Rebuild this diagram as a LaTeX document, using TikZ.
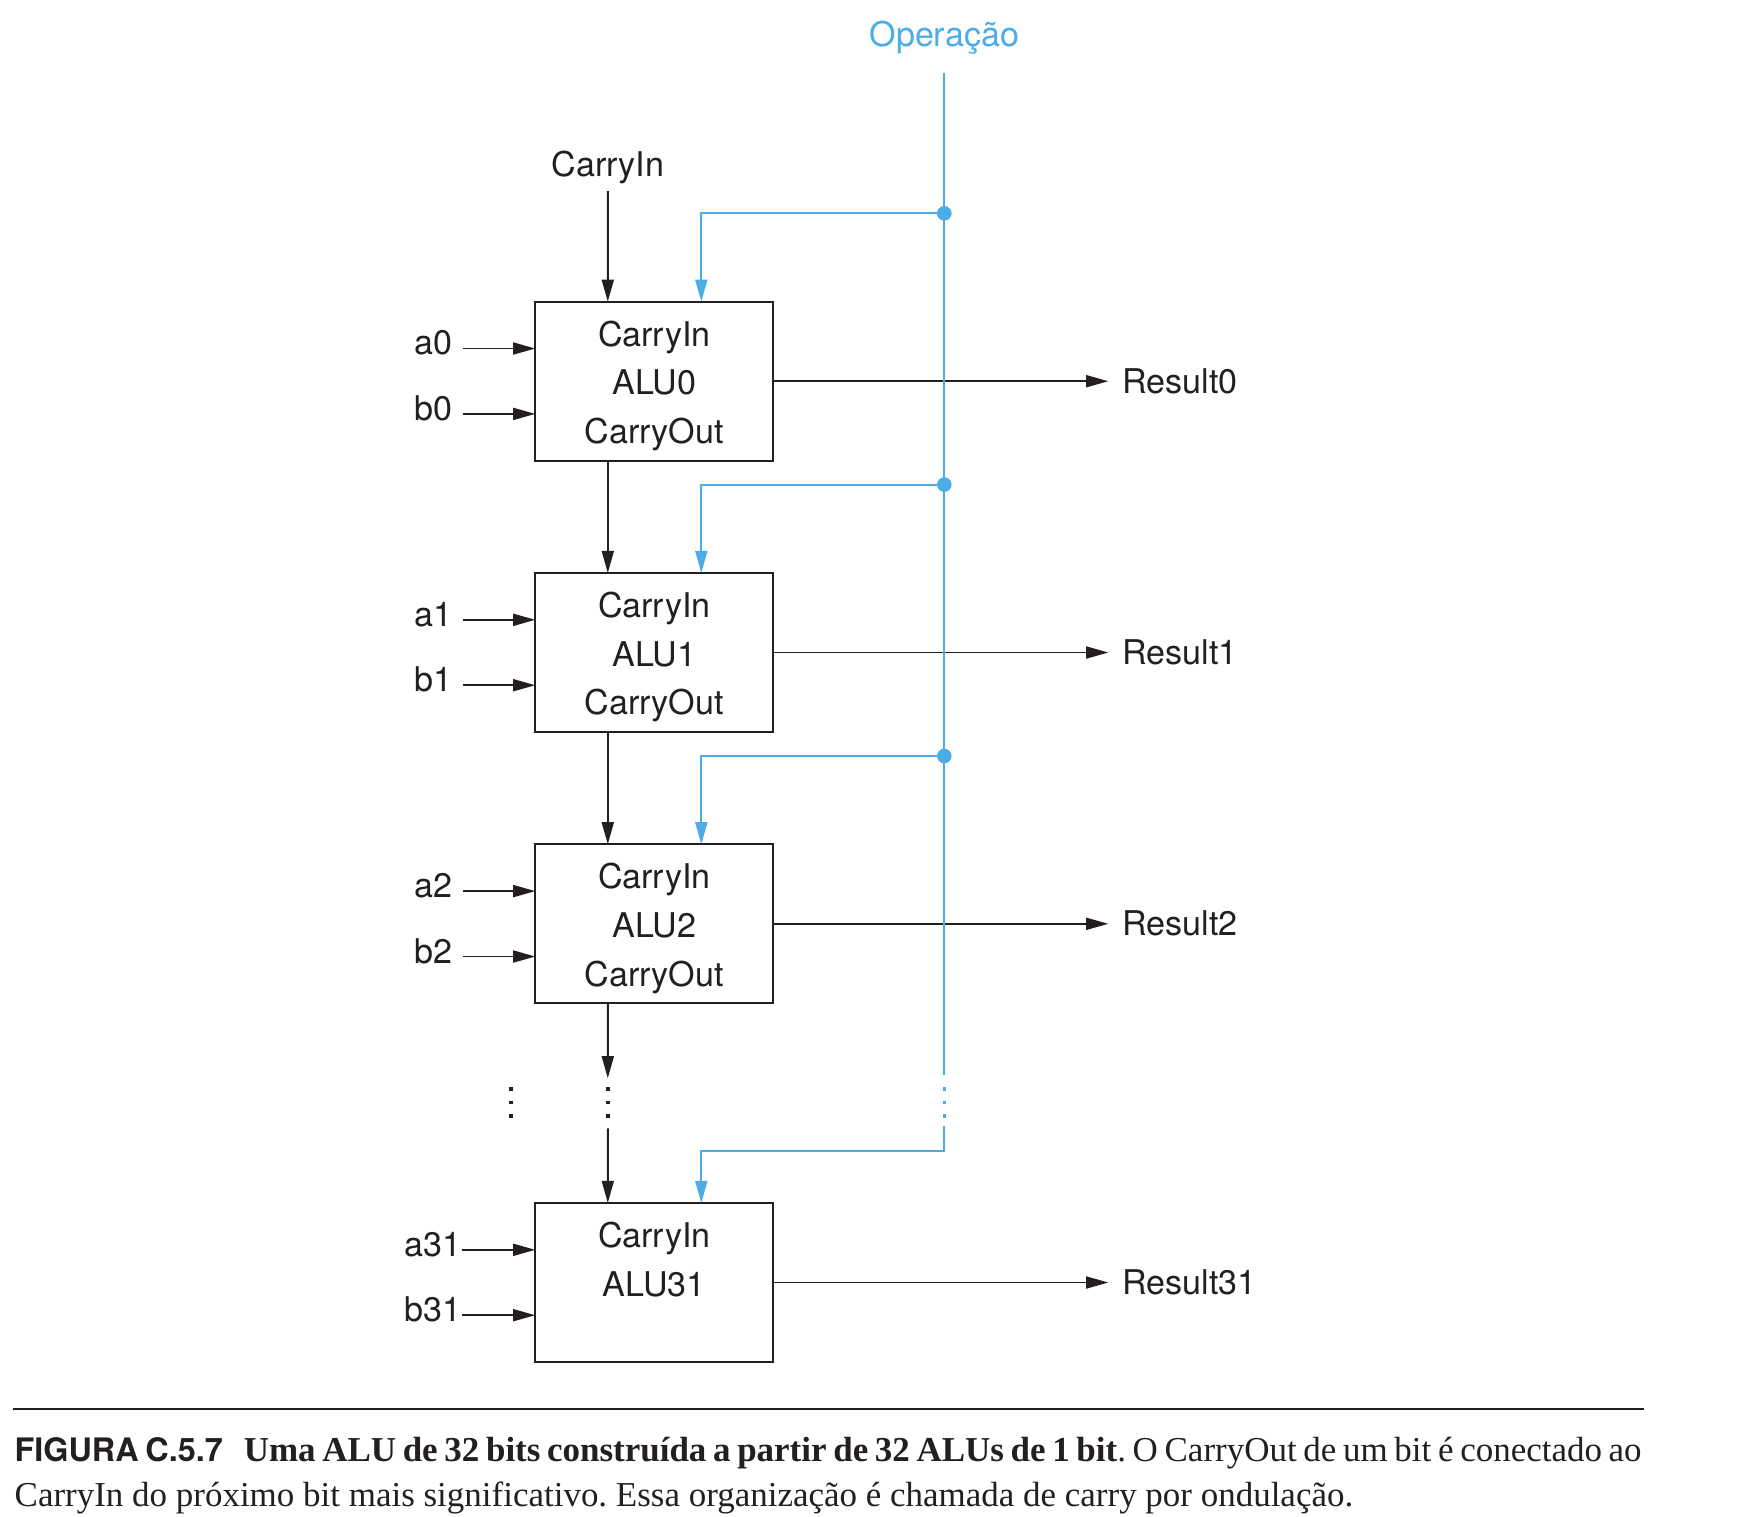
\documentclass[tikz,border=0pt]{standalone}
\usepackage{fontspec}
\setmainfont{Liberation Serif}
\newfontfamily\figfont{TeX Gyre Heros}
\usetikzlibrary{arrows.meta}
\usetikzlibrary{calc}
\usetikzlibrary{positioning}
\frenchspacing

\definecolor{opblue}{RGB}{76,172,230}
\definecolor{ink}{RGB}{35,31,32}

\tikzset{
  wire/.style={draw=ink, line width=0.55pt},
  opwire/.style={draw=opblue, line width=0.55pt},
  arr/.style={-{Triangle[length=6.3pt,width=3.4pt]}},
  alu/.style={draw=ink, line width=0.65pt, minimum width=23.8mm, minimum height=15.9mm,
    inner sep=0pt, outer sep=0pt, align=center, text=ink,
    font=\figfont\fontsize{9.7}{13.8}\selectfont},
  lbl/.style={text=ink, font=\figfont\fontsize{9.7}{11.6}\selectfont},
  pinlbl/.style={lbl, anchor=east, text depth=3.3pt, inner xsep=3pt},
  reslbl/.style={lbl, anchor=west, inner xsep=3.8pt},
}

% three small square dots below (x,y)
\newcommand\ripdots[3]{%
  \fill[#1] (#2-1.7,#3-1.7) rectangle (#2+1.7,#3+1.7);
  \fill[#1] (#2-1.7,#3+11.8) rectangle (#2+1.7,#3+15.2);
  \fill[#1] (#2-1.7,#3+25.3) rectangle (#2+1.7,#3+28.7);
}
% strut for the first line in a box
\newcommand\topstrut{\rule{0pt}{9.9pt}}

\begin{document}
\begin{tikzpicture}[x=0.1mm, y=-0.1mm]
  \useasboundingbox (0,0) rectangle (1764,1516);

  %ALUs
  \node[alu] (alu0) at (654.3,381.2) {\topstrut CarryIn\\ALU0\\CarryOut};
  \node[alu] (alu1) at (654.3,652.5) {\topstrut CarryIn\\ALU1\\CarryOut};
  \node[alu] (alu2) at (654.3,923.8) {\topstrut CarryIn\\ALU2\\CarryOut};
  \node[alu] (alu31) at (654.3,1282.5) {\topstrut CarryIn\\ALU31\\\phantom{CarryOut}};

  %Carry chain
  \node[lbl, inner sep=2pt] (cin) at (607.8,167) {CarryIn};
  \draw[wire,arr] (cin.south) -- ([xshift=-4.65mm]alu0.north);
  \draw[wire,arr] ([xshift=-4.65mm]alu0.south) -- ([xshift=-4.65mm]alu1.north);
  \draw[wire,arr] ([xshift=-4.65mm]alu1.south) -- ([xshift=-4.65mm]alu2.north);
  \coordinate (gapTop) at (607.8,1078.3);
  \coordinate (gapBot) at (607.8,1128.3);
  \draw[wire,arr] ([xshift=-4.65mm]alu2.south) -- (gapTop);
  \draw[wire,arr] (gapBot) -- ([xshift=-4.65mm]alu31.north);
  \ripdots{ink}{607.8}{1089}
  \ripdots{ink}{511}{1089}

  %Inputs
  \node[pinlbl] (a0) at (463.3,348.5) {a0};
  \node[pinlbl] (b0) at (463.3,413.9) {b0};
  \node[pinlbl] (a1) at (463.3,619.8) {a1};
  \node[pinlbl] (b1) at (463.3,685.2) {b1};
  \node[pinlbl] (a2) at (463.3,891.1) {a2};
  \node[pinlbl] (b2) at (463.3,956.5) {b2};
  \node[pinlbl, inner xsep=0pt] (a31) at (461.7,1249.8) {a31};
  \node[pinlbl, inner xsep=0pt] (b31) at (461.7,1315.2) {b31};
  \draw[wire,arr] (a0.east) -- (a0.east -| alu0.west);
  \draw[wire,arr] (b0.east) -- (b0.east -| alu0.west);
  \draw[wire,arr] (a1.east) -- (a1.east -| alu1.west);
  \draw[wire,arr] (b1.east) -- (b1.east -| alu1.west);
  \draw[wire,arr] (a2.east) -- (a2.east -| alu2.west);
  \draw[wire,arr] (b2.east) -- (b2.east -| alu2.west);
  \draw[wire,arr] (a31.east) -- (a31.east -| alu31.west);
  \draw[wire,arr] (b31.east) -- (b31.east -| alu31.west);

  %Results
  \node[reslbl] (r0) at (1108.3,381.2) {Result0};
  \node[reslbl] (r1) at (1108.3,652.5) {Result1};
  \node[reslbl] (r2) at (1108.3,923.8) {Result2};
  \node[reslbl] (r31) at (1108.3,1282.5) {Result31};
  \draw[wire,arr] (alu0.east) -- (r0.west);
  \draw[wire,arr] (alu1.east) -- (r1.west);
  \draw[wire,arr] (alu2.east) -- (r2.west);
  \draw[wire,arr] (alu31.east) -- (r31.west);

  %Operation bus
  \node[lbl, text=opblue, inner ysep=5pt] (op) at (944.3,38) {Operação};
  \coordinate (j0) at (944.3,213.3);
  \coordinate (j1) at (944.3,484.6);
  \coordinate (j2) at (944.3,756);
  \coordinate (opGap) at (944.3,1075);
  \coordinate (opBot) at (944.3,1125.7);
  \draw[opwire] (op.south) -- (opGap);
  \ripdots{opblue}{944.3}{1089}
  \draw[opwire,arr] (j0) -| ([xshift=4.7mm]alu0.north);
  \draw[opwire,arr] (j1) -| ([xshift=4.7mm]alu1.north);
  \draw[opwire,arr] (j2) -| ([xshift=4.7mm]alu2.north);
  \draw[opwire,arr] (opBot) |- ++(0,25.3) -| ([xshift=4.7mm]alu31.north);
  \fill[opblue] (j0) circle (0.73mm);
  \fill[opblue] (j1) circle (0.73mm);
  \fill[opblue] (j2) circle (0.73mm);

  %Caption
  \coordinate (ruleL) at (13,1409.3);
  \coordinate (ruleR) at (1644,1409.3);
  \draw[ink, line width=0.6pt] (ruleL) -- (ruleR);
  \node[anchor=north west, inner sep=0pt, text width=162.7mm, align=justify, text=ink,
    font=\fontsize{9.95}{12.7}\selectfont] (cap) at (14,1436.5)
    {{\figfont\bfseries\fontsize{9.2}{12.7}\selectfont FIGURA C.5.7}\hspace{0.6em}\textbf{Uma ALU de 32 bits construída a partir de 32 ALUs de 1 bit}. O CarryOut de um bit é conectado ao\linebreak CarryIn do próximo bit mais significativo. Essa organização é chamada de carry por ondulação.};
\end{tikzpicture}
\end{document}
